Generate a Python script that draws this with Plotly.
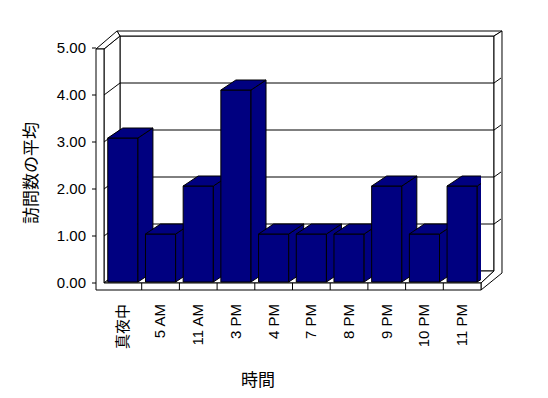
import plotly.graph_objects as go

# ---- data ----
categories = ["真夜中", "5 AM", "11 AM", "3 PM", "4 PM", "7 PM", "8 PM", "9 PM", "10 PM", "11 PM"]
avg_visits = [3, 1, 2, 4, 1, 1, 1, 2, 1, 2]
y_tick_values = [0, 1, 2, 3, 4, 5]
x_title = "時間"
y_title = "訪問数の平均"

# ---- layout geometry (screen pixels; page body adds an 8px margin) ----
OFF = 8
FIG_W, FIG_H = 548 - OFF, 398 - OFF
L, R, T, B = 104, 481, 48, 283          # front plane of plot area (screen px)
BAR_BASE, BAR_SCALE = 282, 48           # bar projection (px, px per unit)
CAT_PX = (R - L) / len(categories)
BAR_W = 0.8
DX = 15 / CAT_PX                         # bar depth in x units
DY = 10 / BAR_SCALE                      # bar depth in bar-y units
NAVY = "#000080"
LINE = "#000000"


def px(x):
    return (x - L) / (R - L)


def py(y):
    return (B - y) / (B - T)


def path(points):
    return "M " + " L ".join(f"{px(a):.5f},{py(b):.5f}" for a, b in points) + " Z"


shapes = []


def poly(points, fill="white"):
    shapes.append(dict(type="path", xref="paper", yref="paper", path=path(points),
                       fillcolor=fill, line=dict(color=LINE, width=1), layer="below"))


def seg(x0, y0, x1, y1):
    shapes.append(dict(type="line", xref="paper", yref="paper",
                       x0=px(x0), y0=py(y0), x1=px(x1), y1=py(y1),
                       line=dict(color=LINE, width=1), layer="below"))


# walls / floor
BX0, BX1, BY0, BY1 = 120, 494, 271, 36   # back wall inner surface
STEP = (B - T) / 5
poly([(BX0, BY1), (BX1, BY1), (BX1, BY0), (BX0, BY0)])                 # back wall
poly([(L, T + 1), (BX0, BY1), (BX0, BY0), (L, B)])                     # left wall inner
poly([(L, B), (R, B), (BX1, BY0), (BX0, BY0)])                         # floor top
poly([(117, 31), (502, 31), (BX1, BY1), (BX0, BY1)])                   # back wall top
poly([(96, T + 1), (117, 31), (BX0, BY1), (L, T + 1)])                 # left wall top
poly([(R, B), (BX1, BY0), (BX1, BY1), (502, 31), (502, 273), (R, 290)])  # right slab
poly([(96, T + 1), (L, T + 1), (L, B), (R, B), (R, 290), (96, 290)])  # front L face

for v in y_tick_values[1:-1]:
    yb = BY0 - v * STEP
    yf = B - v * STEP
    seg(BX0, yb, BX1, yb)
    seg(L, yf, BX0, yb)
    seg(BX1, yb, 501, yb - 5)
for v in y_tick_values:
    yf = B - v * STEP
    seg(92, yf, 96, yf)
for k in range(1, len(categories)):
    xk = L + k * CAT_PX
    seg(xk, B, xk, 290)

fig = go.Figure()
fig.add_trace(go.Scatter(x=[0], y=[0], mode="markers", marker=dict(opacity=0),
                         hoverinfo="skip", showlegend=False))

bar_range = [(BAR_BASE - B) / BAR_SCALE, (BAR_BASE - T) / BAR_SCALE]
h = BAR_W / 2
for i, v in enumerate(avg_visits):
    ax = f"y{i + 2}"
    fig.add_trace(go.Bar(x=[i], y=[v], width=BAR_W, yaxis=ax,
                         marker=dict(color=NAVY, line=dict(color=LINE, width=1)),
                         hoverinfo="skip", showlegend=False))
    fig.add_trace(go.Scatter(x=[i + h, i + h, i + h + DX, i + h + DX, i + h],
                             y=[0, v, v + DY, DY, 0], yaxis=ax, mode="lines",
                             fill="toself", fillcolor=NAVY, line=dict(color=LINE, width=1),
                             hoverinfo="skip", showlegend=False))
    fig.add_trace(go.Scatter(x=[i - h, i + h, i + h + DX, i - h + DX, i - h],
                             y=[v, v, v + DY, v + DY, v], yaxis=ax, mode="lines",
                             fill="toself", fillcolor=NAVY, line=dict(color=LINE, width=1),
                             hoverinfo="skip", showlegend=False))
    fig.layout[f"yaxis{i + 2}"] = dict(overlaying="y", range=bar_range, visible=False,
                                       fixedrange=True)

tick_font = dict(family="Liberation Sans, Arial, Noto Sans CJK JP", size=15, color="#000000")
cjk = "Noto Sans CJK JP"
tick_text = [c if c.isascii() else f'<span style="font-family:{cjk}">{c}</span>'
             for c in categories]
fig.update_layout(
    width=FIG_W, height=FIG_H,
    margin=dict(l=L - OFF, r=548 - R, t=T - OFF, b=398 - B, pad=0, autoexpand=False),
    paper_bgcolor="white", plot_bgcolor="rgba(0,0,0,0)",
    showlegend=False,
    shapes=shapes,
    xaxis=dict(range=[-0.5, len(categories) - 0.5], tickvals=list(range(len(categories))),
               ticktext=tick_text, tickangle=-90, showgrid=False, zeroline=False,
               showline=False, ticks="", tickfont=tick_font, ticklabelstandoff=17,
               automargin=False, fixedrange=True),
    yaxis=dict(range=[0, 5], tickvals=y_tick_values,
               ticktext=[f"{v:.2f}" for v in y_tick_values], showgrid=False,
               zeroline=False, showline=False, ticks="", tickfont=tick_font,
               ticklabelstandoff=17, automargin=False, fixedrange=True),
    annotations=[
        dict(text=x_title, xref="paper", yref="paper", x=px(258), y=py(378),
             xanchor="center", yanchor="middle", showarrow=False,
             font=dict(family=cjk, size=17, color="black")),
        dict(text=y_title, xref="paper", yref="paper", x=px(29), y=py(173),
             xanchor="center", yanchor="middle", textangle=-90, showarrow=False,
             font=dict(family=cjk, size=17, color="black")),
    ],
)

fig.write_html("out.html")
